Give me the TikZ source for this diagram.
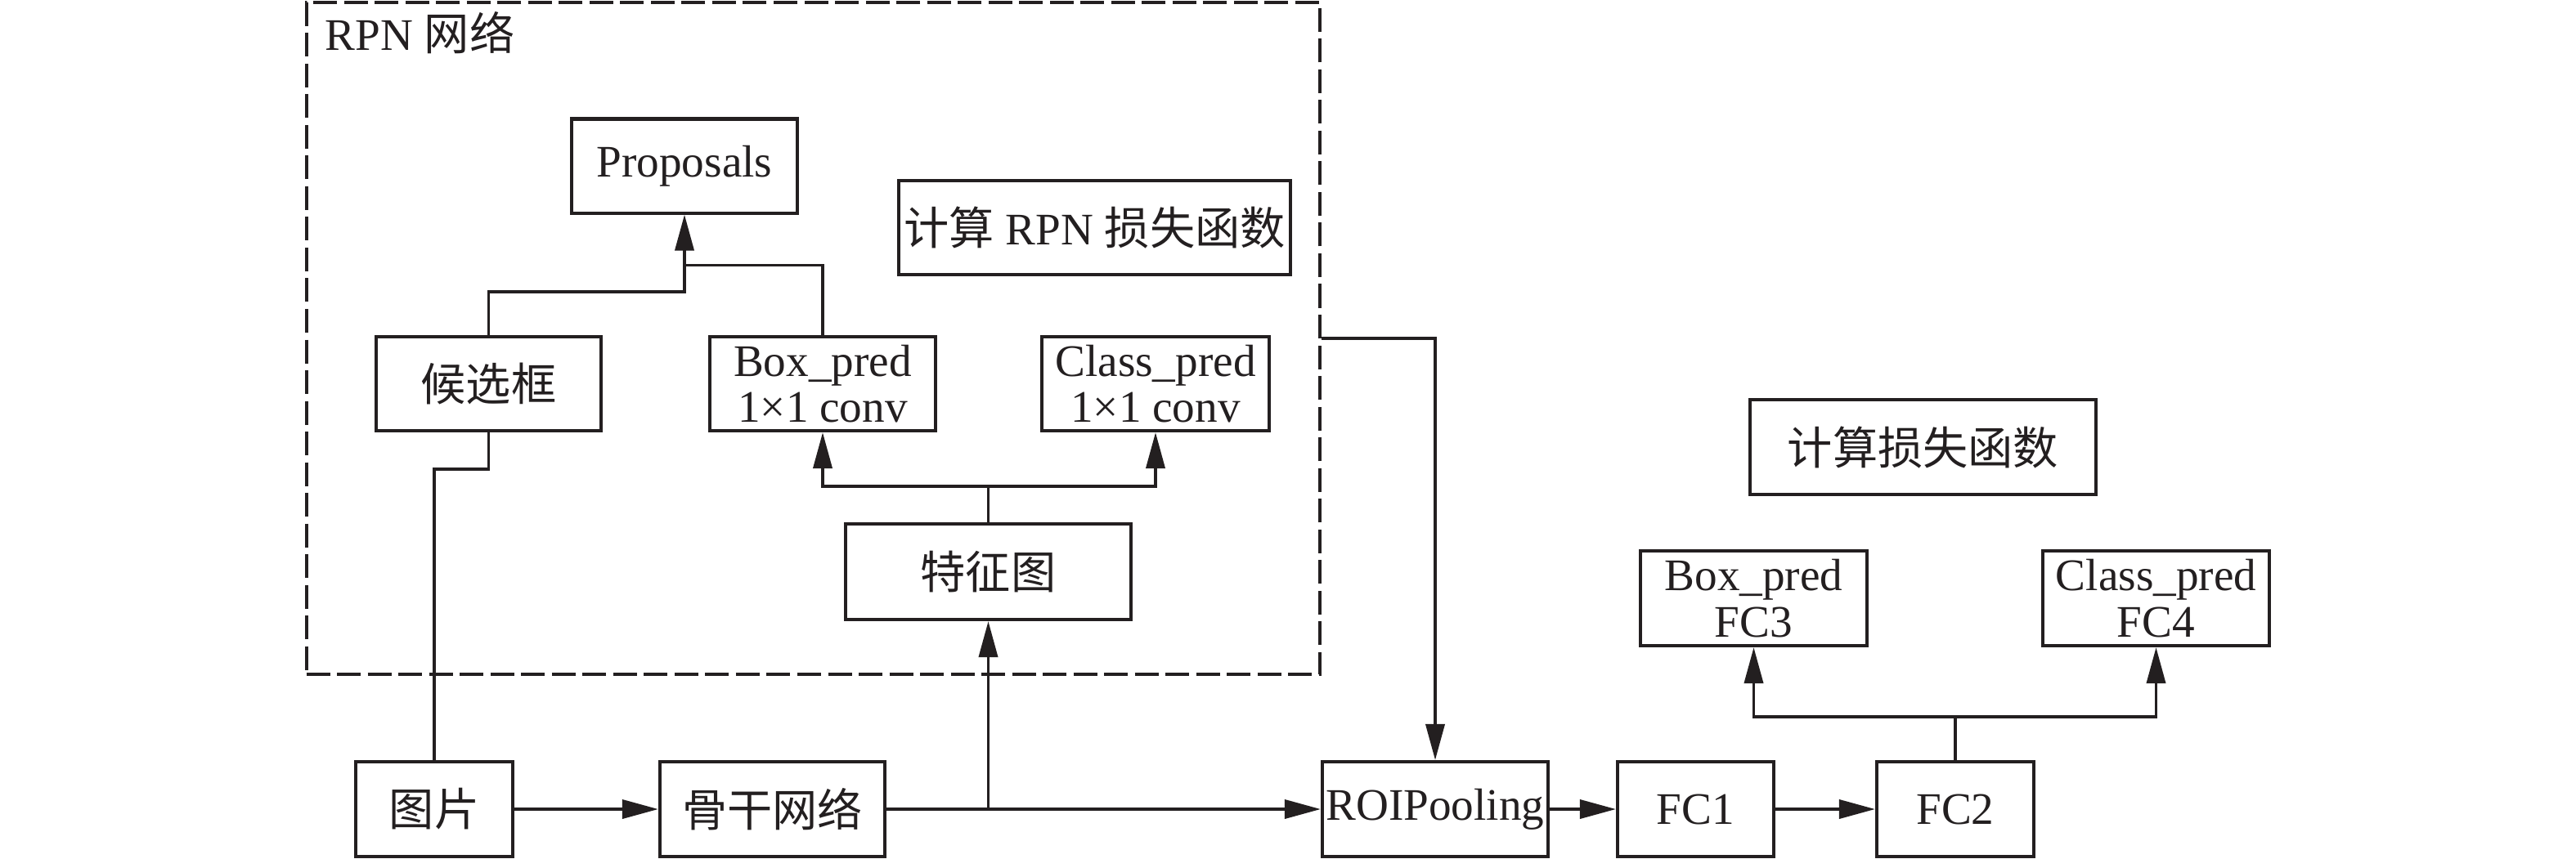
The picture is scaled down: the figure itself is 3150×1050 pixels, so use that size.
\documentclass[tikz,border=0pt]{standalone}
\usepackage{fontspec}
\setmainfont{Liberation Serif}
\newfontfamily\cjk{Noto Sans CJK SC}
\usetikzlibrary{arrows.meta}
\definecolor{ink}{HTML}{231F20}
\begin{document}
\begin{tikzpicture}[x=0.01cm,y=-0.01cm, color=ink,
  box/.style={draw=ink, text=ink, line width=1.15pt, inner sep=0pt, align=center, minimum height=11.5mm,
    font=\fontsize{15.7}{16}\selectfont},
  conn/.style={draw=ink, line width=1.05pt},
  arr/.style={conn, -{Triangle[length=4.4mm,width=2.3mm]}},
  lbl/.style={inner sep=0pt, text=ink, font=\fontsize{15.7}{16}\selectfont}]
\useasboundingbox (0,0) rectangle (3150,1050);
% RPN dashed region
\node[draw=ink, dash pattern=on 2.9mm off 0.85mm, line width=1.15pt, minimum width=123.9mm,
  minimum height=82.2mm, inner sep=0pt] (rpn) at (994.5,414) {};
\node[lbl, anchor=base west] (rpnlbl) at (397,61) {RPN {\cjk 网络}};
% nodes
\node[box, minimum width=27.6mm] (prop) at (837,203) {Proposals};
\node[box, minimum width=47.9mm] (rpnloss) at (1338.5,278.5) {{\cjk 计算} RPN {\cjk 损失函数}};
\node[box, minimum width=27.5mm] (hxk) at (597.5,469.5) {\cjk 候选框};
\node[box, minimum width=27.6mm] (bp1) at (1006,469.5) {Box\_pred\\1×1 conv};
\node[box, minimum width=27.8mm] (cp1) at (1413,469.5) {Class\_pred\\1×1 conv};
\node[box, minimum width=34.9mm, minimum height=11.7mm] (tzt) at (1208.5,699.5) {\cjk 特征图};
\node[box, minimum width=19.2mm, minimum height=11.6mm] (img) at (531,990) {\cjk 图片};
\node[box, minimum width=27.5mm, minimum height=11.6mm] (bb) at (944.5,990) {\cjk 骨干网络};
\node[box, minimum width=27.6mm, minimum height=11.6mm] (roi) at (1755,990) {ROIPooling};
\node[box, minimum width=19.1mm, minimum height=11.6mm] (fc1) at (2073.5,990) {FC1};
\node[box, minimum width=19.2mm, minimum height=11.6mm] (fc2) at (2391,990) {FC2};
\node[box, minimum width=42.3mm, minimum height=11.6mm] (loss) at (2351.5,547) {\cjk 计算损失函数};
\node[box, minimum width=27.7mm, minimum height=11.6mm] (bp2) at (2144.5,732) {Box\_pred\\FC3};
\node[box, minimum width=27.7mm, minimum height=11.6mm] (cp2) at (2636.5,732) {Class\_pred\\FC4};
% connectors inside RPN
\draw[arr] (hxk.north) -- ++(0,-53) -| (prop.south);
\draw[conn] (bp1.north) |- ([yshift=-6.2mm]prop.south);
\draw[conn] (tzt.north) -- ++(0,-44) coordinate (j2);
\draw[arr] (j2) -| (bp1.south);
\draw[arr] (j2) -| (cp1.south);
\draw[conn] (img.north) |- ([yshift=-4.5mm]hxk.south) -- (hxk.south);
% main row
\draw[arr] (img.east) -- (bb.west);
\draw[arr] (bb.east) -- (roi.west);
\draw[arr] (tzt.south |- bb.east) -- (tzt.south);
\draw[arr] (rpn.east) -| (roi.north);
\draw[arr] (roi.east) -- (fc1.west);
\draw[arr] (fc1.east) -- (fc2.west);
\draw[conn] (fc2.north) -- ++(0,-53) coordinate (j3);
\draw[arr] (j3) -| (bp2.south);
\draw[arr] (j3) -| (cp2.south);
\end{tikzpicture}
\end{document}
